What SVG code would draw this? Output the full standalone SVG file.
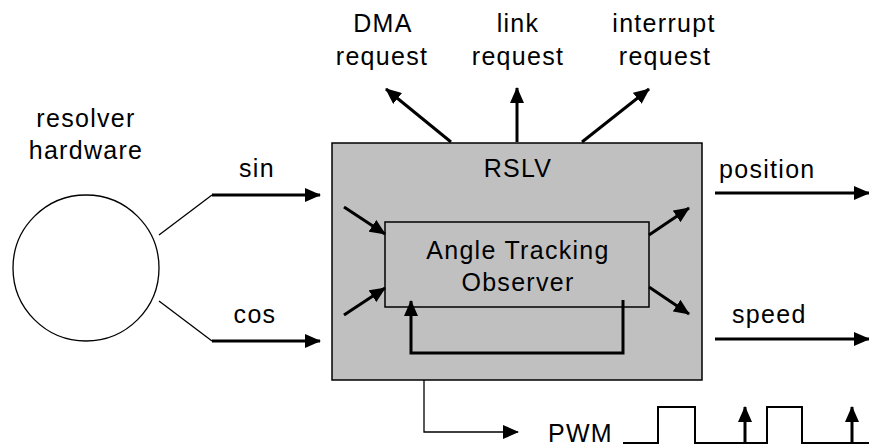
<svg xmlns="http://www.w3.org/2000/svg" width="869" height="447" viewBox="0 0 869 447">
<style>
text{font-family:"Liberation Sans",Arial,Helvetica,sans-serif;font-size:25px;letter-spacing:1.3px;fill:#000;}
.c{text-anchor:middle;}
.thick{stroke:#000;stroke-width:3;fill:none;}
.thin{stroke:#000;stroke-width:1.3;fill:none;}
.box{fill:#c0c0c0;stroke:#000;stroke-width:1.5;}
</style>
<defs>
<marker id="ah" markerUnits="userSpaceOnUse" viewBox="0 0 16 14" refX="15" refY="7" markerWidth="16" markerHeight="14" orient="auto">
<path d="M0,0 L16,7 L0,14 z" fill="#000"/>
</marker>
</defs>
<g id="resolver">
<circle cx="86" cy="268" r="73" fill="#fff" stroke="#000" stroke-width="1.3"/>
<text class="c" x="86" y="127">resolver</text>
<text class="c" x="86" y="159">hardware</text>
</g>
<g id="rslv">
<rect class="box" x="332" y="143" width="370" height="237"/>
<text class="c" x="518" y="177">RSLV</text>
</g>
<g id="observer">
<rect class="box" x="385" y="222" width="264" height="85" stroke-width="1.2"/>
<text class="c" x="518" y="259">Angle Tracking</text>
<text class="c" x="518" y="291">Observer</text>
</g>
<g id="labels">
<text class="c" x="383" y="32">DMA</text>
<text class="c" x="382" y="65">request</text>
<text class="c" x="518" y="32">link</text>
<text class="c" x="518" y="65">request</text>
<text class="c" x="664" y="32">interrupt</text>
<text class="c" x="665" y="65">request</text>
<text class="c" x="257" y="177">sin</text>
<text class="c" x="255" y="323">cos</text>
<text x="719" y="178">position</text>
<text x="732" y="323">speed</text>
<text x="548" y="442">PWM</text>
</g>
<g id="connectors">
<line class="thin" x1="159" y1="235" x2="212" y2="195"/>
<line class="thick" x1="212" y1="195" x2="320" y2="195" marker-end="url(#ah)"/>
<line class="thin" x1="159" y1="301" x2="212" y2="341"/>
<line class="thick" x1="212" y1="341" x2="320" y2="341" marker-end="url(#ah)"/>
<line class="thick" x1="451" y1="142" x2="386" y2="89" marker-end="url(#ah)"/>
<line class="thick" x1="517" y1="142" x2="517" y2="88" marker-end="url(#ah)"/>
<line class="thick" x1="582" y1="142" x2="649" y2="89" marker-end="url(#ah)"/>
<line class="thick" x1="344" y1="207" x2="385" y2="234" marker-end="url(#ah)"/>
<line class="thick" x1="344" y1="315" x2="385" y2="288" marker-end="url(#ah)"/>
<line class="thick" x1="649" y1="235" x2="689" y2="208" marker-end="url(#ah)"/>
<line class="thick" x1="649" y1="287" x2="689" y2="314" marker-end="url(#ah)"/>
<polyline class="thick" points="623,300 623,353 411,353 411,301" marker-end="url(#ah)"/>
<line class="thick" x1="715" y1="193" x2="869" y2="193" marker-end="url(#ah)"/>
<line class="thick" x1="715" y1="339" x2="869" y2="339" marker-end="url(#ah)"/>
<polyline class="thin" points="424,380 424,432 518,432" stroke-width="1.8" marker-end="url(#ah)"/>
<polyline fill="none" stroke="#000" stroke-width="2" points="623,443 658,443 658,407 695,407 695,443 767,443 767,407 802,407 802,443 869,443"/>
<line class="thick" x1="745" y1="443" x2="745" y2="407" marker-end="url(#ah)"/>
<line class="thick" x1="852" y1="443" x2="852" y2="407" marker-end="url(#ah)"/>
</g>
</svg>
